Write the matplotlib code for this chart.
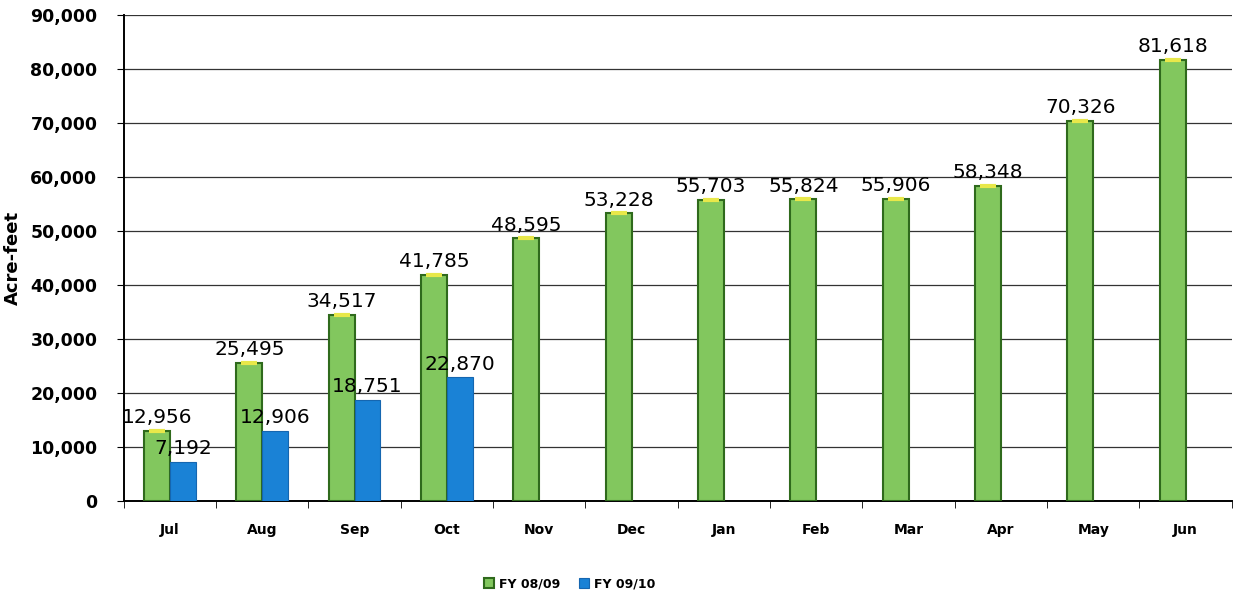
import numpy as np
import matplotlib.pyplot as plt
from matplotlib.ticker import FuncFormatter, FixedLocator

months = ["Jul", "Aug", "Sep", "Oct", "Nov", "Dec", "Jan", "Feb", "Mar", "Apr", "May", "Jun"]
fy0809 = [12956, 25495, 34517, 41785, 48595, 53228, 55703, 55824, 55906, 58348, 70326, 81618]
fy0910 = [7192, 12906, 18751, 22870]

fig = plt.figure(figsize=(12.38, 5.97), dpi=100)
ax = fig.add_axes([0.100, 0.161, 0.895, 0.814])

x = np.arange(len(months))
w = 0.28
b1 = ax.bar(x - w / 2, fy0809, w, color="#82c75e", edgecolor="#2f6a1c", linewidth=1.5,
            label="FY 08/09", zorder=3)
b2 = ax.bar(x[:len(fy0910)] + w / 2, fy0910, w, color="#1a82d6", edgecolor="#1566b0",
            linewidth=0.8, label="FY 09/10", zorder=3)

# yellow caps on the green bars
ax.scatter(x - w / 2, fy0809, s=140, marker="_", color="#e8e84a", linewidths=3, zorder=4)

for xi, v in zip(x - w / 2, fy0809):
    ax.text(xi, v + 700, f"{v:,}", ha="center", va="bottom", fontsize=14.5, zorder=5)
for xi, v in zip(x[:len(fy0910)] + w / 2, fy0910):
    ax.text(xi, v + 700, f"{v:,}", ha="center", va="bottom", fontsize=14.5, zorder=5)

ax.set_xlim(-0.5, len(months) - 0.5)
ax.set_ylim(0, 90000)
ax.set_yticks(np.arange(0, 90001, 10000))
ax.yaxis.set_major_formatter(FuncFormatter(lambda v, p: f"{int(v):,}"))
ax.set_xticks(x)
ax.set_xticklabels(months, fontweight="bold", fontsize=10)
ax.xaxis.set_minor_locator(FixedLocator(np.arange(-0.5, len(months), 1.0)))
ax.tick_params(axis="x", which="major", length=0, pad=16)
ax.tick_params(axis="x", which="minor", length=5, color="black")
ax.tick_params(axis="y", labelsize=12.5, length=5, pad=14)
for t in ax.get_yticklabels():
    t.set_fontweight("bold")

ax.grid(axis="y", color="#333333", linewidth=0.9, zorder=0)
ax.set_axisbelow(True)
for s in ["top", "right"]:
    ax.spines[s].set_visible(False)
ax.spines["left"].set_linewidth(1.4)
ax.spines["bottom"].set_linewidth(1.4)

ax.set_ylabel("Acre-feet", fontweight="bold", fontsize=13,
              family=["Liberation Sans Narrow", "DejaVu Sans"], labelpad=6)

fig.legend(handles=[b1, b2], loc="center", bbox_to_anchor=(0.46, 0.022), ncol=2,
           frameon=False, prop={"size": 9, "weight": "bold"}, handlelength=0.8,
           handleheight=0.8, columnspacing=1.5, handletextpad=0.4)

plt.savefig("out.png")
plt.close()
